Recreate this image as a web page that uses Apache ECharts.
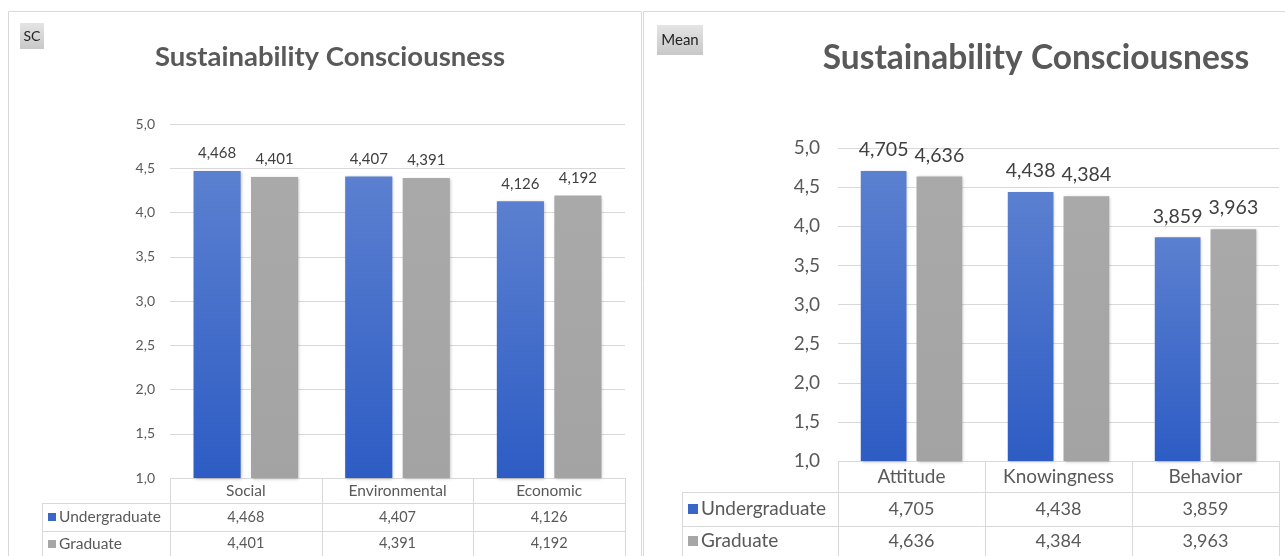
<!DOCTYPE html>
<html>
<head>
<meta charset="utf-8">
<script src="https://cdn.jsdelivr.net/npm/echarts@6/dist/echarts.min.js"></script>
<style>
html,body{margin:0;padding:0;background:#fff;}
#c{width:1285px;height:556px;}
</style>
</head>
<body>
<div id="c"></div>
<script>
// ---- data ----
const seriesNames = ['Undergraduate', 'Graduate'];
const leftCategories = ['Social', 'Environmental', 'Economic'];
const leftUndergrad = [4.468, 4.407, 4.126];
const leftGrad = [4.401, 4.391, 4.192];
const rightCategories = ['Attitude', 'Knowingness', 'Behavior'];
const rightUndergrad = [4.705, 4.438, 3.859];
const rightGrad = [4.636, 4.384, 3.963];
const yTicks = ['1,0','1,5','2,0','2,5','3,0','3,5','4,0','4,5','5,0'];
const leftTitle = 'Sustainability Consciousness';
const rightTitle = 'Sustainability Consciousness';
const leftTag = 'SC';
const rightTag = 'Mean';

// ---- style ----
const FONT = 'Lato';
const TXT = '#595959';
const LINE = '#d9d9d9';
const blueGrad = new echarts.graphic.LinearGradient(0, 0, 0, 1, [
  {offset: 0, color: '#5b80d0'}, {offset: 1, color: '#2d5cc4'}]);
const greyGrad = new echarts.graphic.LinearGradient(0, 0, 0, 1, [
  {offset: 0, color: '#a9a9a9'}, {offset: 1, color: '#a3a3a3'}]);
const fmt = v => v.toFixed(3).replace('.', ',');
const fmtTick = v => yTicks[Math.round((v - 1) / 0.5)] || v.toFixed(1).replace('.', ',');

// layout
const L = {left: 170, right: 625, top: 124, bottom: 478, rows: [478, 503, 531, 560], legL: 42,
  txt: 15.5, num: 14.5, lab: 15, tick: 14, title: 27.5, dist: 10, sq: 8};
const R = {left: 838, right: 1279, top: 148, bottom: 461, rows: [461, 492, 526, 560], legL: 682,
  txt: 19, num: 18, lab: 19.5, tick: 19, title: 33.5, dist: 11, sq: 10};

const chart = echarts.init(document.getElementById('c'), null, {renderer: 'canvas'});

function tableGraphics(P, cats, a, b) {
  const g = [];
  const n = cats.length;
  const cw = (P.right - P.left) / n;
  const ln = (x1, y1, x2, y2) => ({type: 'line', shape: {x1, y1, x2, y2}, style: {stroke: LINE, lineWidth: 1}, silent: true});
  g.push(ln(P.left, P.rows[0] + 0.5, P.right, P.rows[0] + 0.5));
  g.push(ln(P.legL, P.rows[1] + 0.5, P.right, P.rows[1] + 0.5));
  g.push(ln(P.legL, P.rows[2] + 0.5, P.right, P.rows[2] + 0.5));
  g.push(ln(P.legL + 0.5, P.rows[1], P.legL + 0.5, P.rows[3]));
  for (let i = 0; i <= n; i++) {
    const x = Math.round(P.left + i * cw) + 0.5;
    g.push(ln(x, P.rows[0], x, P.rows[3]));
  }
  const rowsData = [a, b];
  const colors = ['#3a66c8', '#a6a6a6'];
  for (let r = 0; r < 2; r++) {
    const yc = r === 1 ? (P.rows[2] + 556) / 2 : (P.rows[1] + P.rows[2]) / 2;
    const sq = P.sq;
    g.push({type: 'rect', shape: {x: P.legL + 6, y: Math.round(yc - sq / 2), width: sq, height: sq}, style: {fill: colors[r]}, silent: true});
    g.push({type: 'text', x: P.legL + 6 + sq + 3, y: yc, style: {text: seriesNames[r], fontFamily: FONT, fontSize: P.txt, fill: TXT, verticalAlign: 'middle', textAlign: 'left'}, silent: true});
    for (let i = 0; i < n; i++) {
      g.push({type: 'text', x: P.left + (i + 0.5) * cw, y: yc, style: {text: fmt(rowsData[r][i]), fontFamily: FONT, fontSize: P.num, fill: TXT, verticalAlign: 'middle', textAlign: 'center'}, silent: true});
    }
  }
  return g;
}

const boxFill = () => new echarts.graphic.LinearGradient(0,0,0,1,[{offset:0,color:'#e4e4e4'},{offset:1,color:'#c8c8c8'}]);
const graphics = [
  {type: 'rect', shape: {x: 8.5, y: 11.5, width: 633, height: 560}, style: {fill: 'none', stroke: LINE, lineWidth: 1}, silent: true, z: -10},
  {type: 'rect', shape: {x: 643.5, y: 11.5, width: 660, height: 560}, style: {fill: 'none', stroke: LINE, lineWidth: 1}, silent: true, z: -10},
  {type: 'rect', shape: {x: 20, y: 23, width: 24, height: 26}, style: {fill: boxFill()}, silent: true},
  {type: 'text', x: 32, y: 36, style: {text: leftTag, fontFamily: FONT, fontSize: 14, fill: '#222', textAlign: 'center', verticalAlign: 'middle'}, silent: true},
  {type: 'rect', shape: {x: 657, y: 25, width: 46, height: 30}, style: {fill: boxFill()}, silent: true},
  {type: 'text', x: 680, y: 40, style: {text: rightTag, fontFamily: FONT, fontSize: 15, fill: '#222', textAlign: 'center', verticalAlign: 'middle'}, silent: true},
  {type: 'text', x: 330, y: 57, style: {text: leftTitle, fontFamily: FONT, fontSize: L.title, fontWeight: 'bold', fill: TXT, textAlign: 'center', verticalAlign: 'middle'}, silent: true},
  {type: 'text', x: 1036, y: 58, style: {text: rightTitle, fontFamily: FONT, fontSize: R.title, fontWeight: 'bold', fill: TXT, textAlign: 'center', verticalAlign: 'middle'}, silent: true}
].concat(tableGraphics(L, leftCategories, leftUndergrad, leftGrad))
 .concat(tableGraphics(R, rightCategories, rightUndergrad, rightGrad));

function yAxis(idx, P, margin) {
  return {
    type: 'value', gridIndex: idx, min: 1, max: 5, interval: 0.5,
    axisLine: {show: false}, axisTick: {show: false},
    splitLine: {lineStyle: {color: LINE, width: 1}},
    axisLabel: {fontFamily: FONT, fontSize: P.tick, color: TXT, margin: margin, formatter: v => fmtTick(v)}
  };
}
function xAxis(idx, P, cats) {
  return {
    type: 'category', gridIndex: idx, data: cats,
    axisLine: {show: false}, axisTick: {show: false},
    axisLabel: {fontFamily: FONT, fontSize: P.txt, color: TXT, margin: Math.round((P.rows[1] - P.rows[0] - P.txt) / 2)}
  };
}
function barSeries(name, idx, data, color, P) {
  return {
    name, type: 'bar', xAxisIndex: idx, yAxisIndex: idx, data,
    barGap: '22%', barCategoryGap: '31%',
    itemStyle: {color, shadowBlur: 3, shadowColor: 'rgba(0,0,0,0.25)', shadowOffsetX: 1, shadowOffsetY: 1},
    label: {show: true, position: 'top', distance: P.dist, fontFamily: FONT, fontSize: P.lab, color: '#404040', formatter: p => fmt(p.value)},
    emphasis: {disabled: true}
  };
}

chart.setOption({
  animation: false,
  grid: [
    {left: L.left, width: L.right - L.left, top: L.top, height: L.bottom - L.top},
    {left: R.left, width: R.right - R.left, top: R.top, height: R.bottom - R.top}
  ],
  xAxis: [xAxis(0, L, leftCategories), xAxis(1, R, rightCategories)],
  yAxis: [yAxis(0, L, 15), yAxis(1, R, 18)],
  series: [
    barSeries(seriesNames[0], 0, leftUndergrad, blueGrad, L),
    barSeries(seriesNames[1], 0, leftGrad, greyGrad, L),
    barSeries(seriesNames[0], 1, rightUndergrad, blueGrad, R),
    barSeries(seriesNames[1], 1, rightGrad, greyGrad, R)
  ],
  graphic: graphics
});
</script>
</body>
</html>
